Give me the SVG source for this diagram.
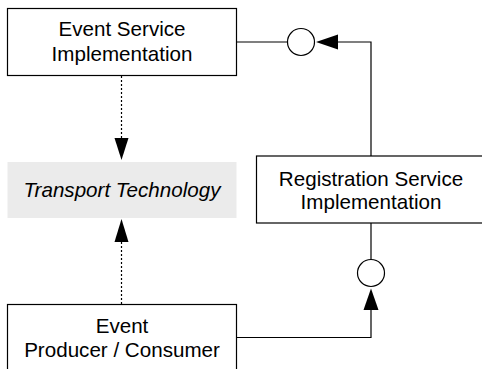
<svg xmlns="http://www.w3.org/2000/svg" width="482" height="369" viewBox="0 0 482 369">
<style>
.box{fill:#fff;stroke:#000;stroke-width:1.2}
.t{font-family:"Liberation Sans",Arial,sans-serif;font-size:20.6px;fill:#000;text-anchor:middle}
.it{font-style:italic}
.ln{fill:none;stroke:#000;stroke-width:1.2}
.dot{fill:none;stroke:#000;stroke-width:1.2;stroke-dasharray:2,2}
.ah{fill:#000}
.if{fill:#fff;stroke:#000;stroke-width:1.2}
</style>
<rect width="482" height="369" fill="#fff"/>
<g id="connectors">
<path class="dot" d="M121.5,76 V139"/>
<polygon class="ah" points="114.5,138 128.5,138 121.5,160"/>
<path class="dot" d="M121.5,304 V241"/>
<polygon class="ah" points="114.5,242 128.5,242 121.5,219"/>
<path class="ln" d="M236.5,42 H287"/>
<circle class="if" cx="301" cy="42" r="13.5"/>
<path class="ln" d="M337,42 H371 V156"/>
<polygon class="ah" points="338,34.5 338,49.5 316,42"/>
<path class="ln" d="M371,223 V259.5"/>
<circle class="if" cx="371" cy="273" r="13.5"/>
<path class="ln" d="M236.5,337.5 H371 V309"/>
<polygon class="ah" points="363.5,310 378.5,310 371,288.5"/>
</g>
<g id="event-service">
<rect class="box" x="7.5" y="8.5" width="229" height="67"/>
<text class="t" x="122" y="36">Event Service</text>
<text class="t" x="122" y="61">Implementation</text>
</g>
<g id="transport">
<rect x="7.5" y="162" width="229" height="56" fill="#ebebeb"/>
<text class="t it" x="122" y="197">Transport Technology</text>
</g>
<g id="registration">
<rect class="box" x="256.5" y="156" width="240" height="67"/>
<text class="t" x="371" y="186">Registration Service</text>
<text class="t" x="371" y="209">Implementation</text>
</g>
<g id="producer">
<rect class="box" x="7.5" y="304.5" width="229" height="80"/>
<text class="t" x="122" y="333">Event</text>
<text class="t" x="122" y="357">Producer / Consumer</text>
</g>
</svg>
